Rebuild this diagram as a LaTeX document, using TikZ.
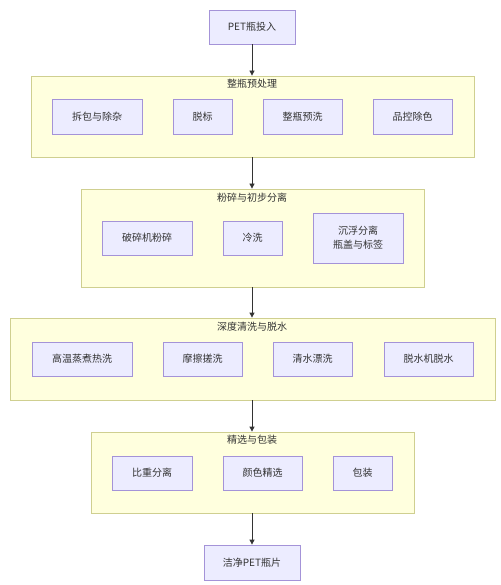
\documentclass[tikz,border=0pt]{standalone}
\usepackage{fontspec}
\setmainfont{Noto Sans CJK SC}
\usetikzlibrary{arrows.meta}
\definecolor{nodefill}{HTML}{ECECFF}
\definecolor{nodeline}{HTML}{A493D8}
\definecolor{grpfill}{HTML}{FFFFDE}
\definecolor{grpline}{HTML}{CFCF90}
\definecolor{txt}{HTML}{333333}
\tikzset{
  proc/.style={draw=nodeline, fill=nodefill, line width=0.8pt, inner sep=0pt, align=center, text=txt, font=\fontsize{10}{14}\selectfont},
  grp/.style={draw=grpline, fill=grpfill, line width=0.8pt, inner sep=0pt},
  gtitle/.style={text=txt, font=\fontsize{10}{12}\selectfont, inner sep=0pt},
  flow/.style={draw=txt, line width=0.8pt, -{Triangle[length=5pt,width=5pt]}}
}
\newcommand{\boxat}[6]{% name, x1, y1, x2, y2, text
  \node[proc, minimum width=#4pt-#2pt, minimum height=#5pt-#3pt] (#1) at ({(#2+#4)/2},{(#3+#5)/2}) {#6};}
\newcommand{\grpat}[5]{%
  \node[grp, minimum width=#4pt-#2pt, minimum height=#5pt-#3pt] (#1) at ({(#2+#4)/2},{(#3+#5)/2}) {};}
\begin{document}
\begin{tikzpicture}[x=1pt,y=-1pt]
\useasboundingbox (0,0) rectangle (500,585);
% groups
\grpat{g1}{31}{76}{474}{157}
\grpat{g2}{81}{189}{424}{287}
\grpat{g3}{10}{318}{495}{400}
\grpat{g4}{91}{432}{414}{513}
\node[gtitle] (t1) at (252,84) {整瓶预处理};
\node[gtitle] (t2) at (252,198) {粉碎与初步分离};
\node[gtitle] (t3) at (252,327) {深度清洗与脱水};
\node[gtitle] (t4) at (252,440) {精选与包装};
% nodes
\boxat{start}{209}{10}{295}{44}{PET瓶投入}
\boxat{a1}{52}{99}{142}{134}{拆包与除杂}
\boxat{a2}{173}{99}{232}{134}{脱标}
\boxat{a3}{263}{99}{342}{134}{整瓶预洗}
\boxat{a4}{373}{99}{452}{134}{品控除色}
\boxat{b1}{102}{221}{192}{255}{破碎机粉碎}
\boxat{b2}{223}{221}{282}{255}{冷洗}
\boxat{b3}{313}{213}{403}{263}{沉浮分离\\瓶盖与标签}
\boxat{c1}{32}{342}{132}{376}{高温蒸煮热洗}
\boxat{c2}{163}{342}{242}{376}{摩擦搓洗}
\boxat{c3}{273}{342}{352}{376}{清水漂洗}
\boxat{c4}{384}{342}{473}{376}{脱水机脱水}
\boxat{d1}{112}{456}{192}{490}{比重分离}
\boxat{d2}{223}{456}{302}{490}{颜色精选}
\boxat{d3}{333}{456}{392}{490}{包装}
\boxat{end}{204}{545}{300}{580}{洁净PET瓶片}
% arrows
\draw[flow] (start.south) -- (g1.north -| start.south);
\draw[flow] (g1.south -| start.south) -- (g2.north -| start.south);
\draw[flow] (g2.south -| start.south) -- (g3.north -| start.south);
\draw[flow] (g3.south -| start.south) -- (g4.north -| start.south);
\draw[flow] (g4.south -| start.south) -- (end.north -| start.south);
\end{tikzpicture}
\end{document}
